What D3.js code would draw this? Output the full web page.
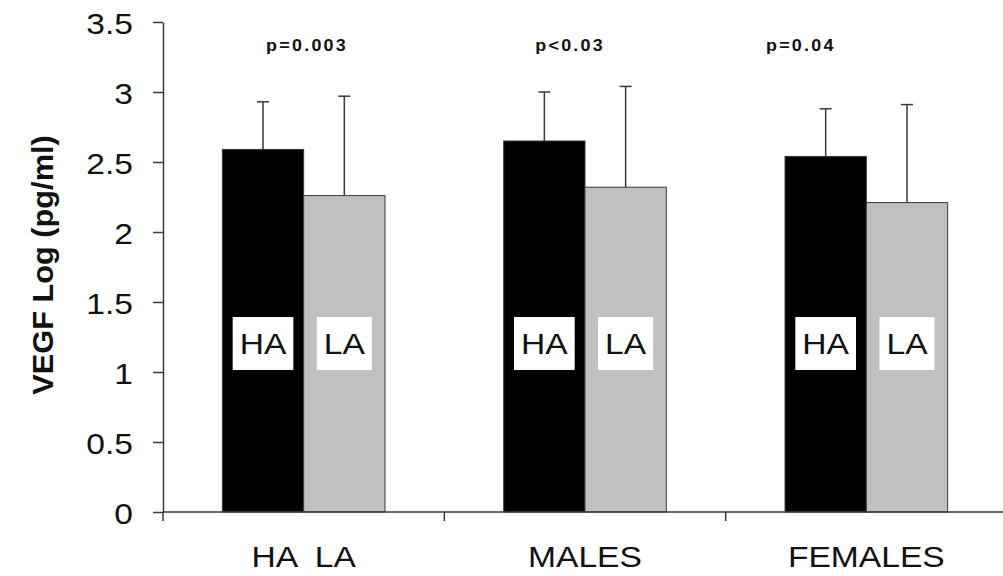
<!DOCTYPE html>
<html>
<head>
<meta charset="utf-8">
<script src="https://cdn.jsdelivr.net/npm/d3@7/dist/d3.min.js"></script>
<style>
  html, body { margin: 0; padding: 0; background: #fff; }
  svg { display: block; }
  text { font-family: "Liberation Sans", Arial, sans-serif; fill: #111; }
</style>
</head>
<body>
<svg id="chart" width="1003" height="576"></svg>
<script>
// VEGF (log pg/ml) by altitude group: HA = high altitude, LA = low altitude
const groups = ["HA  LA", "MALES", "FEMALES"];
const series = ["HA", "LA"];
const haMean = [2.59, 2.65, 2.54];
const laMean = [2.26, 2.32, 2.21];
const haSD = [0.34, 0.35, 0.34];
const laSD = [0.71, 0.72, 0.70];
const pLabels = ["p=0.003", "p<0.03", "p=0.04"];
const yTicks = [0, 0.5, 1, 1.5, 2, 2.5, 3, 3.5];
const yTitle = "VEGF Log (pg/ml)";
const inBarLabelValue = 1.2;

// horizontal position of each p label within its group band (fraction of band)
const pLabelPos = [0.512, 0.447, 0.267];

const svg = d3.select("#chart");
const axisColor = "#3a3a3a";
const sx = 1.12; // text width stretch

const x = d3.scaleBand().domain(groups).range([163, 1007]).paddingInner(0).paddingOuter(0);
const xs = d3.scaleBand().domain(series).range([0, x.bandwidth()]).paddingInner(0).paddingOuter(0.73);
const y = d3.scaleLinear().domain([0, 3.5]).range([512, 22]);
const fill = d3.scaleOrdinal().domain(series).range(["#000000", "#c0c0c0"]);

const rows = [];
groups.forEach((g, i) => {
  rows.push({ g, s: "HA", mean: haMean[i], sd: haSD[i] });
  rows.push({ g, s: "LA", mean: laMean[i], sd: laSD[i] });
});

// stretched text helper
function stretchedText(parent, tx, ty, str, size, weight, anchor, scaleX, extra) {
  const t = parent.append("text")
    .attr("transform", `translate(${tx},${ty}) ${extra || ""} scale(${scaleX},1)`)
    .attr("text-anchor", anchor)
    .style("font-size", size + "px")
    .style("font-weight", weight)
    .style("white-space", "pre")
    .text(str);
  return t;
}

// bars
const barG = svg.append("g");
barG.selectAll("rect.bar").data(rows).join("rect")
  .attr("class", "bar")
  .attr("x", d => x(d.g) + xs(d.s))
  .attr("width", xs.bandwidth())
  .attr("y", d => y(d.mean))
  .attr("height", d => y(0) - y(d.mean))
  .attr("fill", d => fill(d.s))
  .attr("stroke", axisColor)
  .attr("stroke-width", 1);

// error bars (upper only)
const errG = svg.append("g").attr("stroke", axisColor).attr("stroke-width", 1.5);
rows.forEach(d => {
  const cx = x(d.g) + xs(d.s) + xs.bandwidth() / 2;
  errG.append("line").attr("x1", cx).attr("x2", cx).attr("y1", y(d.mean)).attr("y2", y(d.mean + d.sd));
  errG.append("line").attr("x1", cx - 6).attr("x2", cx + 6).attr("y1", y(d.mean + d.sd)).attr("y2", y(d.mean + d.sd));
});

// series labels inside bars on white boxes
const lblG = svg.append("g");
rows.forEach(d => {
  const cx = x(d.g) + xs(d.s) + xs.bandwidth() / 2;
  const cy = y(inBarLabelValue);
  const box = lblG.append("rect").attr("fill", "#fff");
  const t = stretchedText(lblG, cx, cy + 10, d.s, 30, "normal", "middle", sx);
  const w = t.node().getComputedTextLength() * sx;
  box.attr("x", cx - w / 2 - 7).attr("width", w + 14)
     .attr("y", cy - 27).attr("height", 53);
});

// y axis
const yAxis = svg.append("g")
  .attr("transform", "translate(163,0)")
  .call(d3.axisLeft(y).tickValues(yTicks).tickSize(10).tickSizeOuter(0).tickFormat(d3.format("")));
yAxis.select(".domain").attr("stroke", axisColor).attr("stroke-width", 1.5);
yAxis.selectAll(".tick line").attr("stroke", axisColor).attr("stroke-width", 1.5);
yAxis.selectAll(".tick text")
  .attr("x", null).attr("dy", null)
  .attr("transform", "translate(-30,11) scale(" + sx + ",1)")
  .attr("text-anchor", "end")
  .style("font-size", "30px")
  .style("font-family", "'Liberation Sans', Arial, sans-serif")
  .attr("fill", "#111");

// x axis: baseline with ticks at group boundaries
const xAxis = svg.append("g");
xAxis.append("line")
  .attr("x1", 163).attr("x2", 1003).attr("y1", y(0)).attr("y2", y(0))
  .attr("stroke", axisColor).attr("stroke-width", 1.5);
xAxis.selectAll("line.tick").data(groups).join("line")
  .attr("class", "tick")
  .attr("x1", d => x(d)).attr("x2", d => x(d))
  .attr("y1", y(0)).attr("y2", y(0) + 9)
  .attr("stroke", axisColor).attr("stroke-width", 1.5);
groups.forEach(g => {
  stretchedText(xAxis, x(g) + x.bandwidth() / 2, 567, g, 30, "normal", "middle", sx);
});

// p-values above each group
groups.forEach((g, i) => {
  stretchedText(svg, x(g) + x.bandwidth() * pLabelPos[i], 51, pLabels[i], 16, "bold", "middle", 1.12)
    .style("letter-spacing", "2px");
});

// y axis title
stretchedText(svg, 53, 265, yTitle, 29, "bold", "middle", 1.06, "rotate(-90)");
</script>
</body>
</html>
